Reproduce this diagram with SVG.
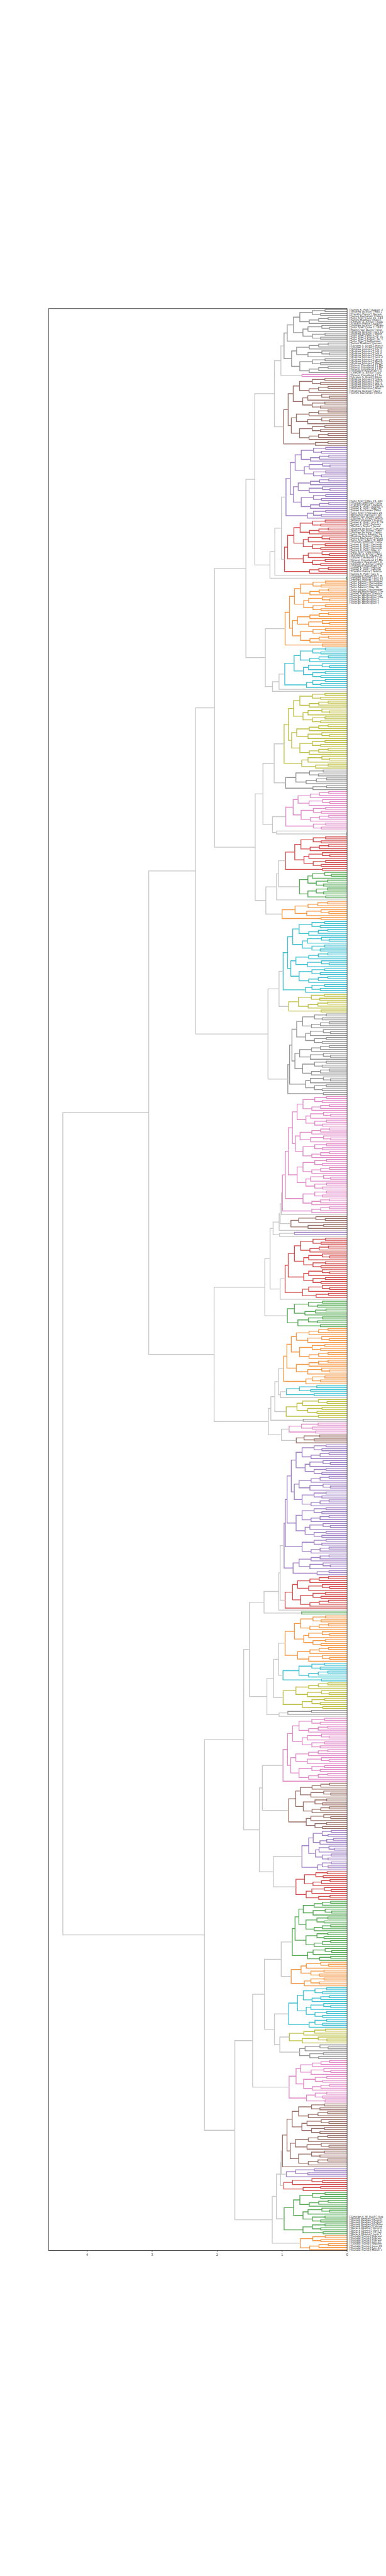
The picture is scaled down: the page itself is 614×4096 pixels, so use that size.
<svg xmlns="http://www.w3.org/2000/svg" width="614" height="4096" viewBox="0 0 614 4096">
<style>
.tree{fill:none;stroke-width:1.35}
.tree path{vector-effect:non-scaling-stroke;stroke:currentColor}
.lg{color:#c8c8c8}.c7{color:#969696}.c1{color:#f59a48}.c2{color:#57ab57}.c3{color:#d45050}.c4{color:#a282c6}.c5{color:#9b736a}.c6{color:#e28cca}.c8{color:#c0c046}.c9{color:#40c2d2}
.frame{fill:none;stroke:#222;stroke-width:.8}
.tick{font-family:"DejaVu Sans",sans-serif;font-size:5.3px;fill:#333;text-anchor:middle}
.lab{font-family:"DejaVu Sans",sans-serif;font-size:4.15px;fill:#222;dominant-baseline:central}
</style>
<rect width="614" height="4096" fill="#fff"/>
<g class="tree" transform="matrix(-103.376 0 0 3.12832 552.096 492.314)">
<defs>
<path id="b2" stroke="currentColor" vector-effect="non-scaling-stroke" d="M0 0H.4V1H0"/>
<path id="b3" stroke="currentColor" vector-effect="non-scaling-stroke" d="M0 0H.3V1H0M.3 .5H.5V2H0"/>
<path id="b4a" stroke="currentColor" vector-effect="non-scaling-stroke" d="M0 0H.35V1H0M0 2H.42V3H0M.35 .5H.55V2.5H.42"/>
<path id="b4b" stroke="currentColor" vector-effect="non-scaling-stroke" d="M0 0H.3V1H0M.3 .5H.45V2H0M.45 1.25H.6V3H0"/>
<path id="b5" stroke="currentColor" vector-effect="non-scaling-stroke" d="M0 0H.35V1H0M0 2H.42V3H0M.35 .5H.55V2.5H.42M.55 1.5H.65V4H0"/>
<path id="b6" stroke="currentColor" vector-effect="non-scaling-stroke" d="M0 0H.35V1H0M0 2H.42V3H0M.35 .5H.55V2.5H.42M0 4H.38V5H0M.55 1.5H.7V4.5H.38"/>
<path id="b7" stroke="currentColor" vector-effect="non-scaling-stroke" d="M0 1H.28V2H0M0 0H.4V1.5H.28M.4 .75H.62V3H0M0 4H.3V5H0M.3 4.5H.5V6H0M.62 1.875H.72V5.25H.5"/>
<path id="b8a" stroke="currentColor" vector-effect="non-scaling-stroke" d="M0 0H.35V1H0M0 2H.42V3H0M.35 .5H.55V2.5H.42M0 4H.3V5H0M.3 4.5H.45V6H0M.45 5.25H.6V7H0M.55 1.5H.75V6.125H.6"/>
<path id="b8b" stroke="currentColor" vector-effect="non-scaling-stroke" d="M0 1H.28V2H0M0 0H.4V1.5H.28M.4 .75H.62V3H0M0 4H.35V5H0M0 6H.42V7H0M.35 4.5H.55V6.5H.42M.62 1.875H.7V5.5H.55"/>
<path id="b8c" stroke="currentColor" vector-effect="non-scaling-stroke" d="M0 0H.3V1H0M.3 .5H.45V2H0M.45 1.25H.6V3H0M0 5H.28V6H0M0 4H.4V5.5H.28M.4 4.75H.62V7H0M.6 2.125H.8V5.875H.62"/>
<g id="b16a"><use href="#b8a"/><use href="#b8b" y="8"/><path stroke="currentColor" vector-effect="non-scaling-stroke" d="M.75 3.813H.85V11.688H.7"/></g>
<g id="b16b"><use href="#b8c"/><use href="#b8a" y="8"/><path stroke="currentColor" vector-effect="non-scaling-stroke" d="M.8 4H.88V11.813H.75"/></g>
<g id="b32"><use href="#b16a"/><use href="#b16b" y="16"/><path stroke="currentColor" vector-effect="non-scaling-stroke" d="M.85 7.75H.93V23.906H.88"/></g>
</defs>
<g id="clusters">
<g id="cA" class="c7" transform="scale(.97 1)"><use href="#b16a"/><use href="#b16b" y="17"/><path d="M.85 7.75H.95V16H0M.95 11.875H1V24.906H.88"/></g>
<g id="cB" class="c6"><path d="M0 33H.695V34H0"/></g>
<g id="cC" class="c5" transform="translate(0 35) scale(.975 1)"><use href="#b32"/><use href="#b3" y="32"/><path d="M.93 15.828H1V33.25H.5"/></g>
<g id="cD" class="c4" transform="translate(0 70) scale(.94 1)"><use href="#b32"/><use href="#b5" y="32"/><path d="M.93 15.828H1V34.75H.65"/></g>
<g id="cE" class="c3" transform="translate(0 107) scale(.963 1)"><use href="#b16a"/><use href="#b8b" y="16"/><use href="#b4b" y="24"/><path d="M.85 7.75H.95V19.688H.7M.95 13.719H1V26.125H.6"/></g>
<g id="cE2" class="c2"><path d="M0 136H.012V137H0"/></g>
<g id="cF" class="c1" transform="translate(0 138) scale(.953 1)"><use href="#b32"/><use href="#b2" y="32"/><path d="M.93 15.828H1V32.5H.4"/></g>
<g id="cG" class="c9" transform="translate(0 172) scale(.959 1)"><use href="#b16a"/><use href="#b5" y="16"/><path d="M.85 7.75H1V18.75H.65"/></g>
<g id="cH" class="c8" transform="translate(0 195) scale(.969 1)"><use href="#b32"/><use href="#b7" y="32"/><path d="M.93 15.828H1V35.563H.72"/></g>
<g id="cI" class="c7" transform="translate(0 234) scale(1.05 1)"><use href="#b8a"/><use href="#b3" y="8"/><path d="M.75 3.813H.9V9.25H.5"/></g>
<g id="cJ" class="c6" transform="translate(0 245) scale(.943 1)"><use href="#b16b"/><use href="#b4a" y="16"/><path d="M.88 7.906H1V17.5H.55"/></g>
<g id="cJ2" class="c7"><path d="M0 266H.012V267H0"/></g>
<g id="cK" class="c3" transform="translate(0 268) scale(.947 1)"><use href="#b16a"/><use href="#b2" y="16"/><path d="M.85 7.75H1V16.5H.4"/></g>
<g id="cL" class="c2" transform="translate(0 286) scale(.861 1)"><use href="#b8b"/><use href="#b6" y="8"/><path d="M.7 3.688H.85V11H.7"/></g>
<g id="cM" class="c1" transform="translate(0 301)"><use href="#b8c"/><use href="#b2" y="8"/><path d="M.8 4H1V8.5H.4"/></g>
<g id="cN" class="c9" transform="translate(0 311) scale(.984 1)"><use href="#b32"/><use href="#b5" y="32"/><path d="M.93 15.828H1V34.75H.65"/></g>
<g id="cO" class="c8" transform="translate(0 348) scale(.998 1)"><use href="#b8a"/><use href="#b2" y="8"/><path d="M.75 3.813H.9V8.5H.4"/></g>
<g id="cP" class="c7" transform="translate(0 358) scale(.912 1)"><use href="#b32"/><use href="#b8b" y="32"/><use href="#b2" y="40"/><path d="M.93 15.828H.97V35.688H.7M.97 25.758H1V40.5H.4"/></g>
<g id="cQ" class="c6" transform="translate(0 400) scale(.9045 1)"><use href="#b32"/><use href="#b16a" y="32"/><use href="#b8a" y="48"/><use href="#b4b" y="56"/><path d="M.93 15.828H1V39.75H.85M1 27.789H1.05V51.813H.75M1.05 39.801H1.1V58.125H.6"/></g>
<g id="cR" class="c5" transform="translate(0 461) scale(1.2 1)"><use href="#b7"/></g>
<g id="cS" class="c4"><path d="M0 469H.81V470H0"/></g>
<g id="cT" class="c3" transform="translate(0 472) scale(.953 1)"><use href="#b16a"/><use href="#b8b" y="16"/><use href="#b7" y="24"/><path d="M.85 7.75H.95V19.688H.7M.95 13.719H1V27.563H.72"/></g>
<g id="cU" class="c2" transform="translate(0 504) scale(1.081 1)"><use href="#b8a"/><use href="#b6" y="8"/><path d="M.75 3.813H.85V11H.7"/></g>
<g id="cV" class="c1" transform="translate(0 518) scale(.975 1)"><use href="#b16b"/><use href="#b8c" y="16"/><use href="#b5" y="24"/><path d="M.88 7.906H.95V20H.8M.95 13.953H1V26.75H.65"/></g>
<g id="cW" class="c9" transform="translate(0 547) scale(1.333 1)"><use href="#b6"/></g>
<g id="cX" class="c8" transform="translate(0 554) scale(1.102 1)"><use href="#b8b"/><use href="#b2" y="8"/><path d="M.7 3.688H.85V8.5H.4"/></g>
<g id="cX2" class="c7"><path d="M0 564H.676V565H0"/></g>
<g id="cY" class="c6" transform="translate(0 566) scale(1.274 1)"><use href="#b6"/></g>
<g id="cZ" class="c5" transform="translate(0 572) scale(1.203 1)"><use href="#b5"/></g>
<g id="cAA" class="c4" transform="translate(0 577) scale(.923 1)"><use href="#b32"/><use href="#b16a" y="32"/><use href="#b8a" y="48"/><use href="#b8c" y="56"/><use href="#b3" y="64"/><path d="M.93 15.828H1V39.75H.85M1 27.789H1.03V51.813H.75M.8 60H.9V65.25H.5M1.03 39.801H1.05V62.625H.9"/></g>
<g id="cAB" class="c3" transform="translate(0 644) scale(.953 1)"><use href="#b16b"/><path d="M.88 7.906H1V16H0"/></g>
<g id="cAC" class="c2"><path d="M0 662H.7V663H0"/></g>
<g id="cAD" class="c1" transform="translate(0 664) scale(.953 1)"><use href="#b16a"/><use href="#b8c" y="16"/><path d="M.85 7.75H1V20H.8"/></g>
<g id="cAE" class="c9" transform="translate(0 688) scale(.986 1)"><use href="#b8a"/><use href="#b2" y="8"/><path d="M.75 3.813H1V8.5H.4"/></g>
<g id="cAF" class="c8" transform="translate(0 698) scale(.984 1)"><use href="#b8c"/><use href="#b6" y="8"/><path d="M.8 4H1V11H.7"/></g>
<g id="cAG" class="c7" transform="translate(0 712) scale(1.824 1)"><use href="#b3"/></g>
<g id="cAH" class="c6" transform="translate(0 716) scale(.986 1)"><use href="#b32"/><path d="M.93 15.828H1V32H0"/></g>
<g id="cAI" class="c5" transform="translate(0 749) scale(.898 1)"><use href="#b16b"/><use href="#b8b" y="16"/><path d="M.88 7.906H1V19.688H.7"/></g>
<g id="cAJ" class="c4" transform="translate(0 773) scale(.695 1)"><use href="#b16a"/><use href="#b5" y="16"/><path d="M.85 7.75H1V18.75H.65"/></g>
<g id="cAK" class="c3" transform="translate(0 794) scale(.874 1)"><use href="#b8a"/><use href="#b7" y="8"/><path d="M.75 3.813H.9V11.563H.72"/></g>
<g id="cAL" class="c2" transform="translate(0 809) scale(.843 1)"><use href="#b16b"/><use href="#b8a" y="16"/><use href="#b7" y="24"/><path d="M.88 7.906H.95V19.813H.75M.95 13.859H1V27.563H.72"/></g>
<g id="cAM" class="c1" transform="translate(0 840) scale(1.012 1)"><use href="#b8b"/><use href="#b5" y="8"/><path d="M.7 3.688H.85V10.75H.65"/></g>
<g id="cAN" class="c9" transform="translate(0 853) scale(.898 1)"><use href="#b16a"/><use href="#b5" y="16"/><path d="M.85 7.75H1V18.75H.65"/></g>
<g id="cAO" class="c8" transform="translate(0 874) scale(1.11 1)"><use href="#b8c"/></g>
<g id="cAP" class="c7" transform="translate(0 882) scale(1.043 1)"><use href="#b8b"/></g>
<g id="cAQ" class="c6" transform="translate(0 890) scale(.892 1)"><use href="#b16b"/><use href="#b6" y="16"/><path d="M.88 7.906H1V19H.7"/></g>
<g id="cAR" class="c5" transform="translate(0 912) scale(.994 1)"><use href="#b32"/><path d="M.93 15.828H1V32H0"/></g>
<g id="cAS" class="c4" transform="translate(0 945) scale(1.438 1)"><use href="#b5"/></g>
<g id="cAT" class="c3" transform="translate(0 950) scale(1.353 1)"><use href="#b7"/></g>
<g id="cAU" class="c2" transform="translate(0 957) scale(.969 1)"><use href="#b16a"/><use href="#b6" y="16"/><path d="M.85 7.75H1V19H.7"/></g>
<g id="cAV" class="c1" transform="translate(0 979) scale(.96 1)"><use href="#b8a"/></g>
</g>
<g id="connectors" class="lg"><path d="M.97 18.39H1.018V33.5H.695M1.018 25.945H1.118V59.54H.975M.94 95.29H1.01V126.92H.963M1.01 111.1H1.112V135H0M1.112 123.05H1.187V136.5H.012M1.118 42.74H1.42V129.78H1.187M.959 185.25H1.047V193H0M1.047 189.13H1.148V194H0M.953 162.16H1.258V191.56H1.148M1.42 86.26H1.557V176.86H1.258M.969 220.7H1.122V240.53H.945M0 265H1.085V266.5H.012M.943 257.7H1.148V265.75H1.085M1.122 230.62H1.295V261.73H1.148M.947 280.13H1.055V293.34H.732M1.055 286.74H1.085V300H0M1.085 293.37H1.25V307.25H1M1.295 246.18H1.414V300.31H1.25M1.557 131.56H2.04V273.25H1.414M.984 336.29H1.047V354.16H.898M1.047 345.23H1.217V391.13H.912M2.04 202.41H2.33V368.18H1.217M.995 448.96H1.01V460H0M1.01 454.48H1.03V464.56H.864M1.03 459.52H1.045V468H0M.81 469.5H1.041V471H0M1.045 463.76H1.138V470.25H1.041M.953 492.64H1.03V503H0M1.138 467H1.185V497.82H1.03M1.185 482.41H1.266V511.41H.919M.933 550H1.024V553H0M.975 538.35H1.057V551.5H1.024M1.057 544.93H1.112V560.09H.937M1.112 552.51H1.173V564.5H.676M.892 569H1.01V574.75H.782M1.173 558.51H1.211V571.88H1.01M1.266 496.91H2.046V565.2H1.211M2.33 285.3H3.052V531.06H2.046M.969 628.21H1.03V655.95H.953M1.03 642.08H1.051V661H0M1.051 651.54H1.278V662.5H.7M.953 677.88H1.055V694.16H.986M1.055 686.02H1.13V705.5H.984M.912 713.25H1.047V715H0M1.13 695.76H1.234V714.13H1.047M1.278 657.02H1.502V704.95H1.234M.986 739.91H1.304V762.8H.898M.695 786.25H1.134V801.69H.787M1.304 751.36H1.35V793.97H1.134M1.502 680.99H1.591V772.67H1.35M.843 829.71H1.014V847.22H.86M.888 878H1.035V885.69H.73M.898 866.25H1.118V881.85H1.035M1.014 838.47H1.272V874.05H1.118M1.272 856.26H1.453V903.45H.892M.994 935.91H1.014V947.75H.935M1.014 941.83H1.024V953.56H.974M1.024 947.7H1.087V970.38H.969M1.087 959.04H1.152V982.81H.72M1.453 879.86H1.727V970.93H1.152M1.591 726.83H2.195V925.4H1.727M3.052 408.18H4.374V826.1H2.195"/></g>
</g>
<g id="axes">
<rect class="frame" x="77.25" y="490.75" width="474.85" height="3087.65"/>
<path class="frame" d="M552.1 3578.4v2.2M448.72 3578.4v2.2M345.35 3578.4v2.2M241.97 3578.4v2.2M138.6 3578.4v2.2"/>
<text class="tick" x="552.1" y="3587">0</text>
<text class="tick" x="448.72" y="3587">1</text>
<text class="tick" x="345.35" y="3587">2</text>
<text class="tick" x="241.97" y="3587">3</text>
<text class="tick" x="138.6" y="3587">4</text>
</g>
<g id="labels">
<text class="lab"><tspan x="556" y="492.31">['James K. Polk'] August 3</tspan><tspan x="556" dy="3.1283">['Andrew Jackson'] May 2</tspan><tspan x="556" dy="3.1283">['Franklin Pierce'] Decem</tspan><tspan x="556" dy="3.1283">['James Buchanan'] Febru</tspan><tspan x="556" dy="3.1283">['John Tyler'] June 11, 184</tspan><tspan x="556" dy="3.1283">['James Madison'] March</tspan><tspan x="556" dy="3.1283">['Chester A. Arthur'] Augu</tspan><tspan x="556" dy="3.1283">['Franklin Pierce'] August</tspan><tspan x="556" dy="3.1283">['Andrew Jackson'] Decem</tspan><tspan x="556" dy="3.1283">['John Tyler'] June 1, 1841</tspan><tspan x="556" dy="3.1283">['Martin Van Buren'] Sept</tspan><tspan x="556" dy="3.1283">['Andrew Jackson'] July 10</tspan><tspan x="556" dy="3.1283">['Andrew Jackson'] Septe</tspan><tspan x="556" dy="3.1283">['John Tyler'] March 25, 1</tspan><tspan x="556" dy="3.1283">['John Tyler'] August 9, 18</tspan><tspan x="556" dy="3.1283">['John Tyler'] August 16, 1</tspan><tspan x="556" dy="3.1283">['John Tyler'] September</tspan><tspan x="556" dy="3.1283">['James Madison'] Januar</tspan><tspan x="556" dy="3.1283">['Ulysses S. Grant'] March</tspan><tspan x="556" dy="3.1283">['Ulysses S. Grant'] Janua</tspan><tspan x="556" dy="3.1283">['Andrew Johnson'] July 1</tspan><tspan x="556" dy="3.1283">['Andrew Johnson'] July 2</tspan><tspan x="556" dy="3.1283">['Andrew Johnson'] July 2</tspan><tspan x="556" dy="3.1283">['Andrew Johnson'] Janua</tspan><tspan x="556" dy="3.1283">['Andrew Johnson'] June 2</tspan><tspan x="556" dy="3.1283">['Andrew Johnson'] Janua</tspan><tspan x="556" dy="3.1283">['Andrew Johnson'] March</tspan><tspan x="556" dy="3.1283">['Andrew Johnson'] March</tspan><tspan x="556" dy="3.1283">['Grover Cleveland 2'] Ma</tspan><tspan x="556" dy="3.1283">['Grover Cleveland 1'] Ma</tspan><tspan x="556" dy="3.1283">['Grover Cleveland 1'] Fe</tspan><tspan x="556" dy="3.1283">['Theodore Roosevelt'] D</tspan><tspan x="556" dy="3.1283">['Chester A. Arthur'] July</tspan><tspan x="556" dy="3.1283">['Grover Cleveland 1'] Fe</tspan><tspan x="556" dy="3.1283">['Ulysses S. Grant'] Dece</tspan><tspan x="556" dy="3.1283">['Andrew Johnson'] Febru</tspan><tspan x="556" dy="3.1283">['Andrew Johnson'] March</tspan><tspan x="556" dy="3.1283">['Andrew Johnson'] July 1</tspan><tspan x="556" dy="3.1283">['Andrew Johnson'] March</tspan><tspan x="556" dy="3.1283">['Andrew Johnson'] Decem</tspan><tspan x="556" dy="3.1283">['William Harrison'] Marc</tspan><tspan x="556" dy="3.1283">['Andrew Jackson'] April</tspan><tspan x="556" dy="3.1283">['James Buchanan'] Dece</tspan></text>
<text class="lab"><tspan x="556" y="795.76">['John Tyler'] May 19, 184</tspan><tspan x="556" dy="3.1283">['Thomas Jefferson'] Janu</tspan><tspan x="556" dy="3.1283">['Franklin Pierce'] August</tspan><tspan x="556" dy="3.1283">['James K. Polk'] August 5</tspan><tspan x="556" dy="3.1283">['James K. Polk'] May 29,</tspan><tspan x="556" dy="3.1283">['James Buchanan'] May</tspan><tspan x="556" dy="3.1283">['John Tyler'] February 20</tspan><tspan x="556" dy="3.1283">['Benjamin Harrison'] Jan</tspan><tspan x="556" dy="3.1283">['Martin Van Buren'] Janu</tspan><tspan x="556" dy="3.1283">['Ulysses S. Grant'] March</tspan><tspan x="556" dy="3.1283">['Millard Fillmore'] August</tspan><tspan x="556" dy="3.1283">['James K. Polk'] July 6, 18</tspan><tspan x="556" dy="3.1283">['James K. Polk'] January</tspan><tspan x="556" dy="3.1283">['Zachary Taylor'] Janua</tspan><tspan x="556" dy="3.1283">['Andrew Jackson'] Decem</tspan><tspan x="556" dy="3.1283">['Martin Van Buren'] Febr</tspan><tspan x="556" dy="3.1283">['Andrew Jackson'] Febru</tspan><tspan x="556" dy="3.1283">['John Quincy Adams'] Fe</tspan><tspan x="556" dy="3.1283">['Andrew Jackson'] May 6</tspan><tspan x="556" dy="3.1283">['James Buchanan'] Janua</tspan><tspan x="556" dy="3.1283">['John Tyler'] April 9, 1842</tspan><tspan x="556" dy="3.1283">['Thomas Jefferson'] Janu</tspan><tspan x="556" dy="3.1283">['James K. Polk'] Decemb</tspan><tspan x="556" dy="3.1283">['James K. Polk'] Decemb</tspan><tspan x="556" dy="3.1283">['James K. Polk'] Decemb</tspan><tspan x="556" dy="3.1283">['James K. Polk'] May 11</tspan><tspan x="556" dy="3.1283">['John Tyler'] December</tspan><tspan x="556" dy="3.1283">['Chester A. Arthur'] Apri</tspan><tspan x="556" dy="3.1283">['Rutherford B. Hayes'] M</tspan><tspan x="556" dy="3.1283">['Grover Cleveland 1'] Oc</tspan><tspan x="556" dy="3.1283">['Grover Cleveland 1'] Ma</tspan><tspan x="556" dy="3.1283">['Theodore Roosevelt'] D</tspan><tspan x="556" dy="3.1283">['Chester A. Arthur'] Dece</tspan><tspan x="556" dy="3.1283">['Theodore Roosevelt'] N</tspan><tspan x="556" dy="3.1283">['James K. Polk'] Februar</tspan><tspan x="556" dy="3.1283">['James K. Polk'] Februar</tspan><tspan x="556" dy="3.1283">['Franklin Pierce'] Februa</tspan><tspan x="556" dy="3.1283">['James K. Polk'] July 4</tspan><tspan x="556" dy="3.1283">['Theodore Roosevelt'] M</tspan><tspan x="556" dy="3.1283">['Herbert Hoover'] July 24</tspan><tspan x="556" dy="3.1283">['Herbert Hoover'] July 24</tspan><tspan x="556" dy="3.1283">['John Adams'] November</tspan><tspan x="556" dy="3.1283">['John Adams'] December</tspan><tspan x="556" dy="3.1283">['John Adams'] December</tspan><tspan x="556" dy="3.1283">['John Adams'] May 16</tspan><tspan x="556" dy="3.1283">['John Adams'] November</tspan><tspan x="556" dy="3.1283">['George Washington'] De</tspan><tspan x="556" dy="3.1283">['James Madison'] Februa</tspan><tspan x="556" dy="3.1283">['George Washington'] Ja</tspan><tspan x="556" dy="3.1283">['George Washington'] De</tspan><tspan x="556" dy="3.1283">['George Washington']</tspan><tspan x="556" dy="3.1283">['George Washington']</tspan><tspan x="556" dy="3.1283">['George Washington']</tspan></text>
<text class="lab"><tspan x="556" y="3523.66">['George H. W. Bush'] Aug</tspan><tspan x="556" dy="3.1283">['Ronald Reagan'] Januar</tspan><tspan x="556" dy="3.1283">['Ronald Reagan'] August</tspan><tspan x="556" dy="3.1283">['Ronald Reagan'] August</tspan><tspan x="556" dy="3.1283">['Ronald Reagan'] Octobe</tspan><tspan x="556" dy="3.1283">['Ronald Reagan'] Februa</tspan><tspan x="556" dy="3.1283">['Barack Obama'] Decem</tspan><tspan x="556" dy="3.1283">['Barack Obama'] April 8,</tspan><tspan x="556" dy="3.1283">['Barack Obama'] 12-Jan</tspan><tspan x="556" dy="3.1283">['Barack Obama'] June 2</tspan><tspan x="556" dy="3.1283">['Donald Trump'] Februar</tspan><tspan x="556" dy="3.1283">['Donald Trump'] Februa</tspan><tspan x="556" dy="3.1283">['Donald Trump'] Februar</tspan><tspan x="556" dy="3.1283">['Donald Trump'] July 24</tspan><tspan x="556" dy="3.1283">['Donald Trump'] Septem</tspan><tspan x="556" dy="3.1283">['Donald Trump'] June 29</tspan><tspan x="556" dy="3.1283">['Donald Trump'] July 24</tspan><tspan x="556" dy="3.1283">['Donald Trump'] March 1</tspan></text>
</g>
</svg>
